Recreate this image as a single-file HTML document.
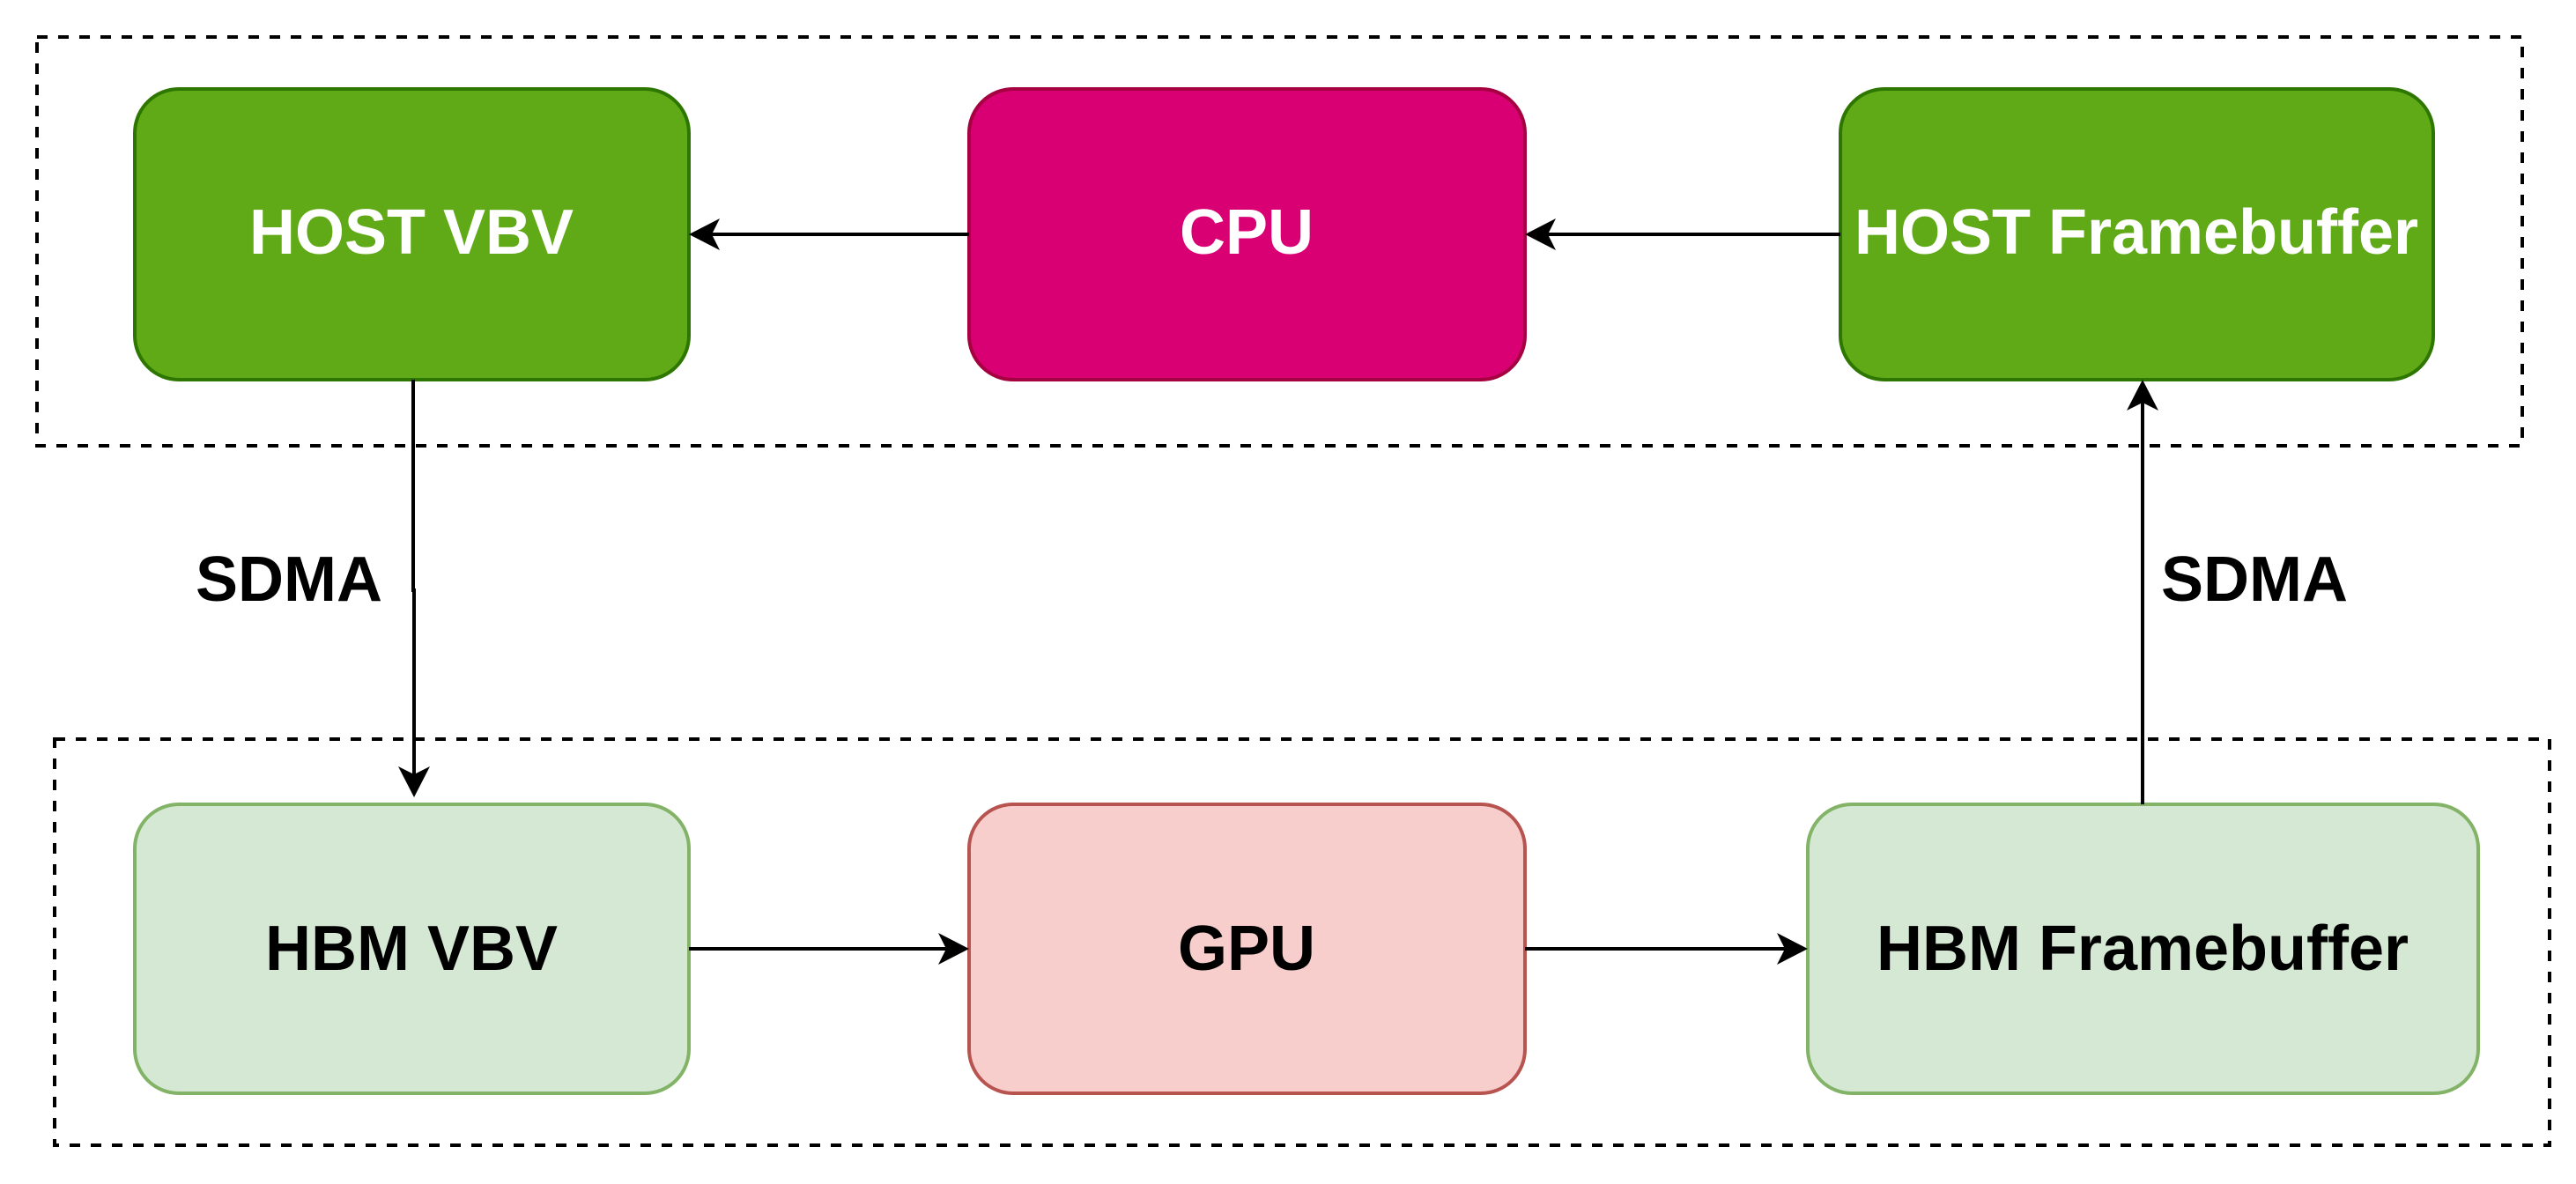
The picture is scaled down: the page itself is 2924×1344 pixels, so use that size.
<!DOCTYPE html>
<html><head><meta charset="utf-8"><style>
html,body{margin:0;padding:0;background:#fff}
svg{display:block}
text{font-family:"Liberation Sans",Arial,sans-serif;font-weight:bold;font-size:72px;text-anchor:middle;dominant-baseline:central}
</style></head><body>
<svg width="2924" height="1344" viewBox="0 0 2924 1344" xmlns="http://www.w3.org/2000/svg">
<defs>
<marker id="a" markerWidth="10" markerHeight="10" refX="9" refY="5" orient="auto" markerUnits="userSpaceOnUse" viewBox="0 0 10 10">
</marker>
</defs>
<rect x="0" y="0" width="2924" height="1344" fill="#fff"/>
<rect x="42" y="42" width="2821" height="464" fill="none" stroke="#000" stroke-width="4" stroke-dasharray="12 12"/>
<rect x="62" y="839" width="2832" height="461" fill="none" stroke="#000" stroke-width="4" stroke-dasharray="12 12"/>

<rect x="153" y="101" width="629" height="330" rx="50" fill="#60a917" stroke="#2d7600" stroke-width="4"/>
<text x="467" y="264" fill="#fff">HOST VBV</text>
<rect x="1100" y="101" width="631" height="330" rx="50" fill="#d80073" stroke="#a50040" stroke-width="4"/>
<text x="1415" y="264" fill="#fff">CPU</text>
<rect x="2089" y="101" width="673" height="330" rx="50" fill="#60a917" stroke="#2d7600" stroke-width="4"/>
<text x="2425" y="264" fill="#fff">HOST Framebuffer</text>

<rect x="153" y="913" width="629" height="328" rx="50" fill="#d5e8d4" stroke="#82b366" stroke-width="4"/>
<text x="467" y="1077" fill="#000">HBM VBV</text>
<rect x="1100" y="913" width="631" height="328" rx="50" fill="#f8cecc" stroke="#b85450" stroke-width="4"/>
<text x="1415" y="1077" fill="#000">GPU</text>
<rect x="2052" y="913" width="761" height="328" rx="50" fill="#d5e8d4" stroke="#82b366" stroke-width="4"/>
<text x="2432" y="1077" fill="#000">HBM Framebuffer</text>

<g stroke="#000" stroke-width="4" fill="none">
<line x1="1100" y1="266" x2="800" y2="266"/>
<line x1="2089" y1="266" x2="1749" y2="266"/>
<polyline points="469,431 469,670 470,670 470,890"/>
<line x1="2432" y1="913" x2="2432" y2="449"/>
<line x1="782" y1="1077" x2="1082" y2="1077"/>
<line x1="1731" y1="1077" x2="2034" y2="1077"/>
</g>
<g fill="#000">
<path d="M782,266 L817,248 L808,266 L817,284 Z"/>
<path d="M1731,266 L1766,248 L1757,266 L1766,284 Z"/>
<path d="M470,905 L452,870 L470,879 L488,870 Z"/>
<path d="M2432,431 L2414,466 L2432,457 L2450,466 Z"/>
<path d="M1100,1077 L1065,1059 L1074,1077 L1065,1095 Z"/>
<path d="M2052,1077 L2017,1059 L2026,1077 L2017,1095 Z"/>
</g>
<text x="328" y="658" fill="#000">SDMA</text>
<text x="2559" y="658" fill="#000">SDMA</text>
</svg>
</body></html>
